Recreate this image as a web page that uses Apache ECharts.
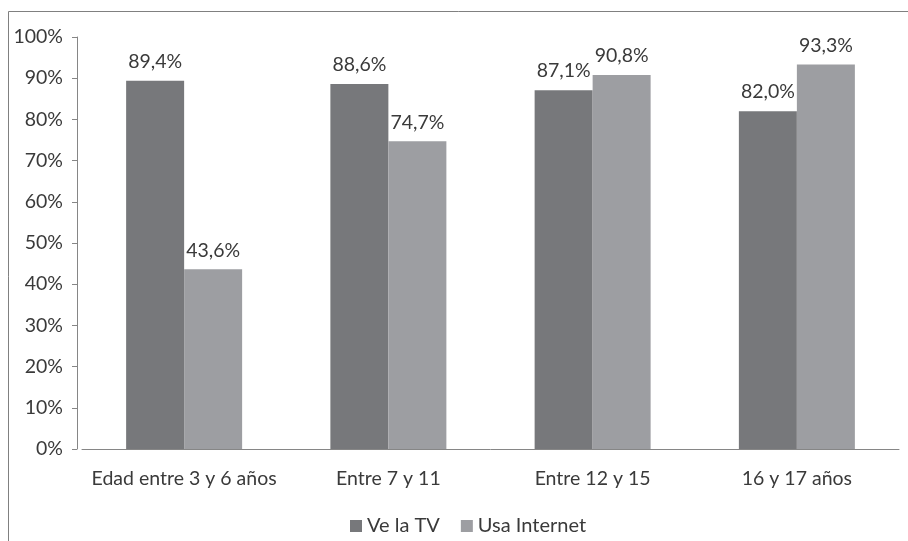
<!DOCTYPE html>
<html>
<head>
<meta charset="utf-8">
<script src="https://cdn.jsdelivr.net/npm/echarts@6/dist/echarts.min.js"></script>
<style>
html,body{margin:0;padding:0;background:#fff;}
#chart{width:908px;height:541px;}
</style>
</head>
<body>
<div id="chart"></div>
<script>
const categories = ['Edad entre 3 y 6 años', 'Entre 7 y 11', 'Entre 12 y 15', '16 y 17 años'];
const veLaTV = [89.4, 88.6, 87.1, 82.0];
const usaInternet = [43.6, 74.7, 90.8, 93.3];
const seriesNames = ['Ve la TV', 'Usa Internet'];
const yTicks = { min: 0, max: 100, interval: 10 };

const FONT = 'Lato';
const TXT = '#3a3a3a';
const FS = 19.5;
const fmtPct = v => v.toFixed(1).replace('.', ',') + '%';

const chart = echarts.init(document.getElementById('chart'), null, { renderer: 'canvas' });
chart.setOption({
  backgroundColor: '#fff',
  animation: false,
  textStyle: { fontFamily: FONT },
  graphic: [{
    type: 'rect',
    shape: { x: 8.5, y: 11.5, width: 1000, height: 1000 },
    style: { fill: 'none', stroke: '#808080', lineWidth: 1 },
    silent: true
  }],
  grid: { left: 82, right: 9, top: 37, bottom: 92, containLabel: false },
  legend: {
    data: seriesNames,
    top: 511,
    left: 345,
    itemWidth: 12,
    itemHeight: 12,
    itemGap: 21,
    icon: 'rect',
    textStyle: { color: TXT, fontSize: 20, fontFamily: FONT }
  },
  xAxis: {
    type: 'category',
    data: categories,
    axisLine: { lineStyle: { color: '#868686', width: 1 } },
    axisTick: { show: false },
    axisLabel: { color: TXT, fontSize: FS, margin: 20, fontFamily: FONT, interval: 0 }
  },
  yAxis: {
    type: 'value',
    min: yTicks.min, max: yTicks.max, interval: yTicks.interval,
    offset: 5,
    axisLine: { show: true, lineStyle: { color: '#868686', width: 1 } },
    axisTick: { show: true, length: 5, lineStyle: { color: '#868686' } },
    splitLine: { show: false },
    axisLabel: { color: TXT, fontSize: FS, margin: 14, fontFamily: FONT, formatter: v => v + '%' }
  },
  series: [
    {
      name: seriesNames[0], type: 'bar', data: veLaTV,
      barWidth: 58, barGap: '0%',
      itemStyle: { color: '#77787b' },
      label: { show: true, position: 'top', distance: 9, color: TXT, fontSize: FS, fontFamily: FONT, formatter: p => fmtPct(p.value) }
    },
    {
      name: seriesNames[1], type: 'bar', data: usaInternet,
      barWidth: 58, barGap: '0%',
      itemStyle: { color: '#9d9ea2' },
      label: { show: true, position: 'top', distance: 9, color: TXT, fontSize: FS, fontFamily: FONT, formatter: p => fmtPct(p.value) }
    }
  ]
});
</script>
</body>
</html>
